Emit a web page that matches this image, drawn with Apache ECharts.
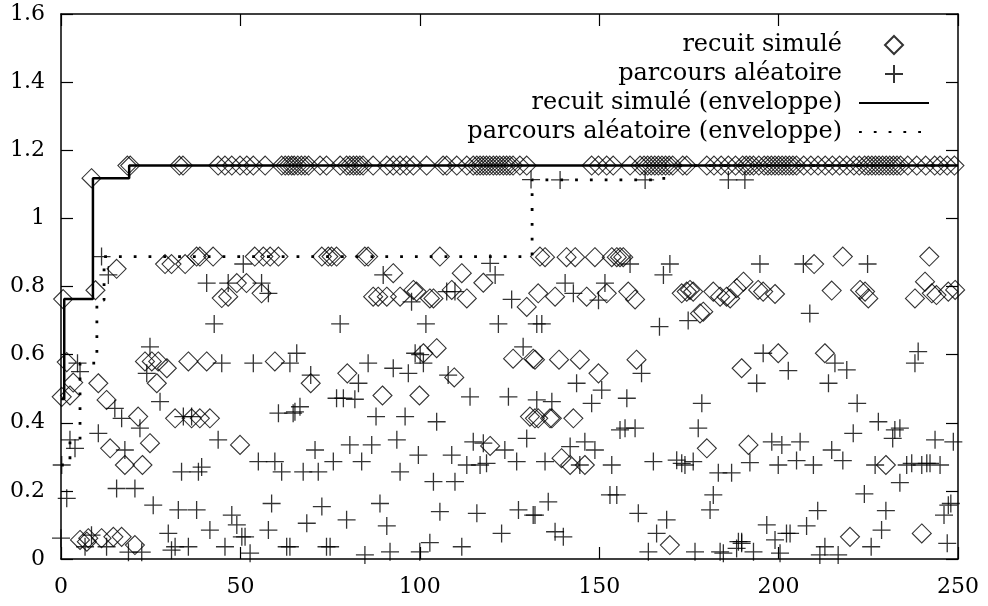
<!DOCTYPE html>
<html><head><meta charset="utf-8">
<script src="https://cdn.jsdelivr.net/npm/echarts@6/dist/echarts.min.js"></script>
<style>html,body{margin:0;padding:0;background:#fff}#c{width:988px;height:606px}</style>
</head><body><div id="c"></div>
<script>
const seriesNames = ['recuit simulé', 'parcours aléatoire', 'recuit simulé (enveloppe)', 'parcours aléatoire (enveloppe)'];
const xTickValues = [0, 50, 100, 150, 200, 250];
const yTickLabels = ['0', '0.2', '0.4', '0.6', '0.8', '1', '1.2', '1.4', '1.6'];

const recuitPoints = [
  [18.5,1.155],[19.3,1.155],[33,1.155],[34,1.155],[43.8,1.155],[45.7,1.155],[47.6,1.155],[49.9,1.155],[51.8,1.155],[53.6,1.155],[56.9,1.155],[61.5,1.155],[62.5,1.155],[63.4,1.155],[64.3,1.155],[65,1.155],[66,1.155],[67,1.155],[68,1.155],[69,1.155],[72.2,1.155],[74,1.155],[77.8,1.155],[79.6,1.155],[80.5,1.155],[81.5,1.155],[82.4,1.155],[83.3,1.155],[84.2,1.155],[87,1.155],[90.8,1.155],[92.6,1.155],[94.5,1.155],[96.3,1.155],[98.2,1.155],[101.9,1.155],[106.5,1.155],[107.5,1.155],[110.3,1.155],[113.1,1.155],[114.9,1.155],[115.9,1.155],[116.8,1.155],[117.7,1.155],[118.6,1.155],[119.5,1.155],[120.5,1.155],[121.4,1.155],[122.3,1.155],[123.3,1.155],[124.2,1.155],[125.1,1.155],[126,1.155],[127.9,1.155],[129.8,1.155],[147.9,1.155],[149.8,1.155],[152.1,1.155],[153.9,1.155],[158.6,1.155],[161.4,1.155],[162.5,1.155],[163.5,1.155],[164.5,1.155],[165.5,1.155],[166.5,1.155],[167.5,1.155],[168.5,1.155],[169.5,1.155],[170.5,1.155],[173.3,1.155],[174.4,1.155],[180,1.155],[182,1.155],[184,1.155],[186,1.155],[188,1.155],[190,1.155],[191,1.155],[192,1.155],[193,1.155],[194.5,1.155],[196,1.155],[197,1.155],[198,1.155],[199,1.155],[200,1.155],[201,1.155],[202,1.155],[203,1.155],[204,1.155],[205,1.155],[207,1.155],[209,1.155],[211,1.155],[213,1.155],[215,1.155],[217,1.155],[219,1.155],[221,1.155],[222.5,1.155],[224,1.155],[225,1.155],[226,1.155],[227,1.155],[228,1.155],[229,1.155],[230,1.155],[231,1.155],[232,1.155],[233,1.155],[234,1.155],[236,1.155],[238.5,1.155],[241,1.155],[243.5,1.155],[245,1.155],[247,1.155],[249,1.155],
  [8.5,1.118],
  [0.6,0.763],[9.6,0.789],[15.5,0.852],
  [29,0.866],[30.8,0.866],[34.6,0.866],[37.8,0.888],[38.7,0.888],[42.4,0.888],
  [54,0.888],[56.4,0.888],[58.3,0.888],[60.6,0.888],
  [49,0.81],[51.7,0.81],[44.8,0.766],[46.6,0.77],[55.9,0.78],
  [1.6,0.578],[3.4,0.518],[0.2,0.476],[2.5,0.48],[10.4,0.516],[12.7,0.467],[21.5,0.418],[24.8,0.34],[13.7,0.325],[17.8,0.276],[22.7,0.276],
  [23.4,0.58],[25.3,0.58],[27.1,0.58],[29.5,0.56],[26.7,0.516],[35.5,0.58],[40.6,0.58],[59.6,0.58],
  [31.8,0.413],[36.4,0.413],[38.7,0.413],[41.5,0.413],[49.9,0.335],
  [5.3,0.056],[7.2,0.051],[7.6,0.061],[11.3,0.061],[14.6,0.065],[16.9,0.065],[20.6,0.041],
  [72.7,0.888],[74.5,0.888],[75.4,0.888],[76.8,0.888],[84.7,0.888],[85.6,0.888],[105.6,0.888],[133.5,0.888],
  [92.6,0.839],[111.7,0.839],[117.7,0.811],
  [87,0.77],[88.4,0.77],[90.8,0.77],[94.5,0.77],[98.2,0.79],[99.1,0.785],[102.8,0.765],[103.8,0.765],[108.9,0.79],[113.1,0.765],[129.8,0.74],[133,0.78],
  [101,0.604],[104.7,0.619],[126,0.588],[131.6,0.588],
  [69.6,0.516],[79.8,0.545],[89.6,0.48],[99.9,0.48],[109.6,0.533],[119.6,0.332],[130.7,0.418],[132.1,0.413],
  [134.9,0.886],[140.9,0.886],[143.3,0.886],[148.8,0.886],[153.5,0.886],[154.9,0.886],[155.8,0.886],[156.7,0.886],
  [137.7,0.77],[146.5,0.77],[152.1,0.78],[158.1,0.785],[160,0.762],
  [173,0.78],[174.4,0.785],[175.3,0.79],[176.2,0.785],[178.1,0.721],[179,0.726],[181.8,0.785],[183.7,0.77],[185.5,0.77],[186.5,0.765],[188.3,0.795],[190.2,0.814],
  [132.1,0.585],[138.8,0.585],[144.6,0.585],[160.4,0.585],
  [149.8,0.545],[189.7,0.56],[133,0.413],[136.3,0.413],[136.8,0.413],[142.8,0.413],[139.5,0.296],[141.9,0.276],[146,0.276],[180,0.325],[191.6,0.335],[169.7,0.041],
  [217.9,0.888],[242,0.888],[209.9,0.866],[194.3,0.79],[195.7,0.785],[199,0.778],[214.8,0.788],[222.7,0.79],[224.1,0.785],[225,0.765],[238,0.765],[240.8,0.814],[242.7,0.78],[244,0.775],[247.3,0.785],[249.2,0.79],[199.9,0.604],[212.9,0.604],
  [229.9,0.276],[219.9,0.065],[239.9,0.075]
];

const parcoursPoints = [
  [11.3,0.888],[13.2,0.834],[40.6,0.81],[50.8,0.866],[46.6,0.81],[55.9,0.81],[57.8,0.78],[42.7,0.69],[24.8,0.623],
  [4.6,0.575],[5.3,0.55],[23.9,0.545],[27.6,0.462],[15,0.442],[16.9,0.413],[22,0.384],[10.4,0.369],[2.5,0.35],[3.9,0.325],[17.8,0.32],[0.2,0.276],[34.1,0.418],[36.4,0.418],[44.8,0.575],[53.6,0.575],[63.8,0.575],[43.8,0.35],[60.6,0.428],[64.7,0.428],[33.6,0.256],[39.2,0.27],[38.3,0.256],[55,0.286],[59.6,0.286],[61.5,0.256],[15.5,0.207],[20.6,0.207],[1.6,0.178],[25.7,0.158],[32.7,0.144],[37.8,0.144],[47.6,0.129],[58.7,0.163],[29.9,0.075],[41.5,0.085],[49,0.1],[50.4,0.065],[51.3,0.065],[57.8,0.085],[62.9,0.036],[0,0.061],[8.5,0.07],[6.7,0.036],[12.7,0.036],[18.8,0.02],[22.5,0.02],[30.8,0.026],[31.8,0.036],[35.5,0.036],[45.7,0.036],[52.7,0.017],
  [131,1.114],[89.8,0.834],[119.6,0.868],[121,0.834],[97.7,0.755],[107.5,0.785],[109.8,0.785],[125.6,0.762],[77.8,0.69],[101.7,0.69],[121.9,0.69],[132.6,0.69],[65.7,0.604],[98.7,0.604],[128.8,0.623],
  [69.6,0.54],[82.9,0.516],[85.6,0.575],[92.6,0.56],[96.8,0.545],[101,0.575],[100.1,0.6],[107.9,0.54],[76.8,0.472],[78.7,0.472],[81.9,0.469],[114,0.476],[124.7,0.476],[132.6,0.467],[65.2,0.432],[66.6,0.447],[87.8,0.418],[95.9,0.418],[104.7,0.403],[70.8,0.32],[75.9,0.286],[80.5,0.335],[83.8,0.286],[86.6,0.335],[93.6,0.35],[99.6,0.305],[108.9,0.305],[114.9,0.344],[117.7,0.34],[113.1,0.276],[116.8,0.276],[118.6,0.281],[123.7,0.32],[127,0.286],[129.8,0.354],[67.5,0.256],[71.7,0.256],[94.5,0.256],[103.8,0.227],[109.8,0.227],[72.7,0.154],[88.9,0.163],[68.5,0.105],[79.6,0.115],[90.8,0.097],[105.6,0.139],[115.9,0.134],[127.5,0.144],[131.6,0.129],[122.8,0.075],[63.8,0.036],[74,0.036],[75,0.036],[84.7,0.012],[91.7,0.021],[100,0.021],[102.8,0.048],[111.7,0.036],
  [139.1,1.113],[162.8,1.113],[186,1.113],[190.6,1.113],[158.6,0.866],[169.7,0.866],[167.9,0.834],[140.5,0.81],[142.8,0.78],[151.6,0.81],[149.8,0.76],[134,0.69],[166.8,0.682],[174.8,0.7],
  [161.8,0.545],[143.7,0.516],[150.7,0.496],[147.9,0.457],[136.8,0.462],[157.7,0.472],[178.6,0.457],[155.8,0.379],[157.2,0.384],[160,0.384],[177.6,0.384],[141.9,0.33],[146,0.344],[148.8,0.32],[134.9,0.286],[144.6,0.276],[153.5,0.276],[165.1,0.286],[171.6,0.29],[173,0.281],[173.9,0.276],[176.2,0.286],[183.2,0.253],[186.9,0.253],[153,0.188],[154.9,0.188],[181.8,0.188],[180.9,0.144],[135.8,0.168],[132.1,0.129],[160.9,0.134],[168.8,0.115],[137.7,0.08],[140,0.065],[166,0.075],[163.7,0.021],[176.7,0.021],[183.7,0.021],[184.6,0.017],[188.3,0.031],[189.7,0.046],[188.8,0.051],
  [194.8,0.866],[206.9,0.866],[224.8,0.866],[208.7,0.721],[195.7,0.604],[238.9,0.609],
  [238,0.575],[202.7,0.553],[215.7,0.575],[219,0.555],[193.9,0.516],[213.9,0.516],[221.9,0.457],[227.8,0.403],[232.4,0.379],[233.8,0.384],[220.8,0.369],[231.8,0.354],[243.6,0.35],[248.7,0.344],[198.1,0.344],[200.9,0.335],[206,0.344],[214.8,0.32],[217.9,0.289],[192,0.283],[199.9,0.276],[205,0.289],[209.7,0.276],[226.9,0.276],[235.7,0.276],[237.1,0.281],[239.9,0.276],[241.3,0.281],[242.2,0.281],[245,0.276],[233.8,0.224],[223.9,0.191],[210.9,0.142],[229.9,0.142],[248,0.163],[247.3,0.158],[246.1,0.129],[196.7,0.1],[207.8,0.097],[228.7,0.085],[199,0.056],[202.2,0.075],[203.2,0.075],[189.7,0.051],[193,0.021],[200.4,0.017],[212.9,0.036],[211.5,0.012],[216.6,0.012],[225.8,0.036],[247,0.046]
];

const recuitEnvelope = [[0,0.47],[0.9,0.763],[8.9,1.118],[19,1.155],[250,1.155]];
const parcoursEnvelope = [[0,0.276],[2.5,0.35],[5.3,0.575],[10,0.76],[12,0.888],[131.3,1.113],[168,1.155],[250,1.155]];

const FONT = 'DejaVu Serif';
const chart = echarts.init(document.getElementById('c'), null, {renderer: 'canvas'});

const baseAxis = {
  axisLine: {show: true, onZero: false, lineStyle: {color: '#000', width: 1.5}},
  axisTick: {show: true, inside: true, length: 12, lineStyle: {color: '#000', width: 1.2}},
  splitLine: {show: false},
  minorTick: {show: false}
};
const hiddenMarker = {color: 'rgba(0,0,0,0)', borderColor: 'rgba(0,0,0,0)', borderWidth: 0};

chart.setOption({
  animation: false,
  backgroundColor: '#fff',
  grid: {left: 61, right: 30, top: 14, bottom: 47, containLabel: false},
  legend: {
    orient: 'vertical', align: 'right', right: 53, top: 28,
    itemWidth: 70, itemHeight: 18, itemGap: 5,
    selectedMode: false,
    textStyle: {fontFamily: FONT, fontSize: 24, color: '#000', padding: [0, 12, 0, 0]},
    data: [
      {name: seriesNames[0], icon: 'path://M9,0L18,9L9,18L0,9Z'},
      {name: seriesNames[1]},
      {name: seriesNames[2], itemStyle: hiddenMarker},
      {name: seriesNames[3], itemStyle: hiddenMarker}
    ]
  },
  xAxis: [
    Object.assign({}, baseAxis, {type: 'value', min: 0, max: 250, interval: 50, position: 'bottom',
      axisLabel: {fontFamily: FONT, fontSize: 22, color: '#000', margin: 17,
        formatter: v => xTickValues.includes(v) ? String(v) : ''}}),
    Object.assign({}, baseAxis, {type: 'value', min: 0, max: 250, interval: 50, position: 'top',
      axisLabel: {show: false}})
  ],
  yAxis: [
    Object.assign({}, baseAxis, {type: 'value', min: 0, max: 1.6, interval: 0.2, position: 'left',
      axisLabel: {fontFamily: FONT, fontSize: 22, color: '#000', margin: 16,
        formatter: v => yTickLabels[Math.round(v / 0.2)]}}),
    Object.assign({}, baseAxis, {type: 'value', min: 0, max: 1.6, interval: 0.2, position: 'right',
      axisLabel: {show: false}})
  ],
  series: [
    {name: seriesNames[0], type: 'scatter', data: recuitPoints, symbol: 'diamond', symbolSize: 19,
     silent: true, itemStyle: {color: 'rgba(0,0,0,0)', borderColor: '#000', borderWidth: 1.1}},
    {name: seriesNames[1], type: 'scatter', data: parcoursPoints, symbol: 'path://M0,9L18,9M9,0L9,18', symbolSize: 18,
     silent: true, itemStyle: {color: 'rgba(0,0,0,0)', borderColor: '#000', borderWidth: 1.3}},
    {name: seriesNames[2], type: 'line', data: recuitEnvelope, step: 'end', symbol: 'none', silent: true,
     lineStyle: {color: '#000', width: 2.5}, itemStyle: {color: '#000'}},
    {name: seriesNames[3], type: 'line', data: parcoursEnvelope, step: 'end', symbol: 'none', silent: true,
     lineStyle: {color: '#000', width: 2.8, type: [2.8, 12]}, itemStyle: {color: '#000'}}
  ]
});
</script>
</body></html>
